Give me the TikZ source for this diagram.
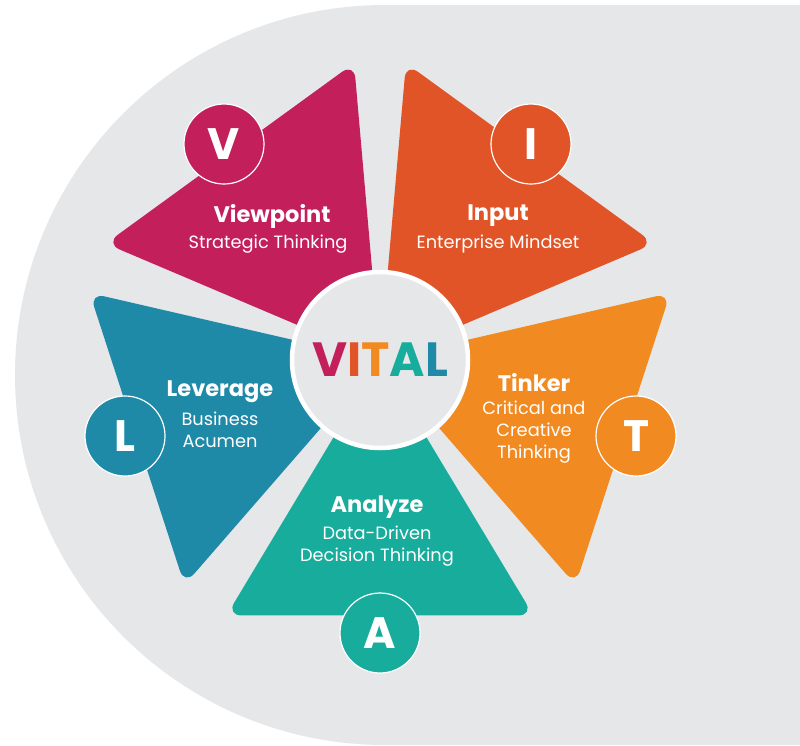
\documentclass[tikz,border=0pt]{standalone}
\usepackage{fontspec}
\setmainfont{Poppins}
\definecolor{bggray}{HTML}{E6E7E9}
\definecolor{cV}{HTML}{C21F5B}
\definecolor{cI}{HTML}{E05428}
\definecolor{cT}{HTML}{F28A22}
\definecolor{cA}{HTML}{18AC9C}
\definecolor{cL}{HTML}{1E8AA8}
\tikzset{
  petal/.style={rounded corners=15pt},
  letterdot/.style={circle, draw=white, line width=1.2pt, minimum size=80pt, inner sep=0pt,
    text=white, font=\bfseries\fontsize{44}{44}\selectfont},
  ttl/.style={text=white, font=\bfseries\fontsize{22.5}{24}\selectfont, inner sep=0pt},
  sub/.style={text=white, font=\fontsize{17.8}{22}\selectfont, align=center, inner sep=0pt},
}
\begin{document}
\begin{tikzpicture}[x=1pt,y=-1pt]
\useasboundingbox (0,0) rectangle (800,745);
% background
\fill[white] (0,0) rectangle (800,745);
\fill[bggray] (385,375) circle[radius=370pt];
\fill[bggray] (385,5) rectangle (800,745);
\coordinate (C) at (380,360);
% petals
\fill[cV, petal] (C) -- +(95:298pt) -- +(157:298pt) -- cycle;
\fill[cI, petal] (C) -- +(23:298pt) -- +(85:298pt) -- cycle;
\fill[cT, petal] (C) -- +(311:298pt) -- +(13:298pt) -- cycle;
\fill[cA, petal] (C) -- +(239:298pt) -- +(301:298pt) -- cycle;
\fill[cL, petal] (C) -- +(167:298pt) -- +(229:298pt) -- cycle;
% letter circles
\node[letterdot, fill=cV] (lV) at (224,144) {V};
\node[letterdot, fill=cI] (lI) at (531,144) {I};
\node[letterdot, fill=cT] (lT) at (636,436) {T};
\node[letterdot, fill=cA] (lA) at (380,633) {A};
\node[letterdot, fill=cL] (lL) at (125,436) {L};
% center
\node[circle, fill=bggray, draw=white, line width=4.5pt, minimum size=176pt, inner sep=0pt,
  font=\bfseries\fontsize{48}{48}\selectfont] (hub) at (C)
  {\textcolor{cV}{V}\textcolor{cI}{I}\textcolor{cT}{T}\textcolor{cA}{A}\textcolor{cL}{L}};
% labels
\node[ttl] (tV) at (272,216) {Viewpoint};
\node[sub] (sV) at (268,244) {Strategic Thinking};
\node[ttl] (tI) at (498,216) {Input};
\node[sub] (sI) at (498,244) {Enterprise Mindset};
\node[ttl] (tL) at (220,392) {Leverage};
\node[sub] (sL) at (220,430) {Business\\Acumen};
\node[ttl] (tT) at (534,383) {Tinker};
\node[sub] (sT) at (534,432) {Critical and\\Creative\\Thinking};
\node[ttl] (tA) at (377,507) {Analyze};
\node[sub] (sA) at (377,546) {Data-Driven\\Decision Thinking};
\end{tikzpicture}
\end{document}
